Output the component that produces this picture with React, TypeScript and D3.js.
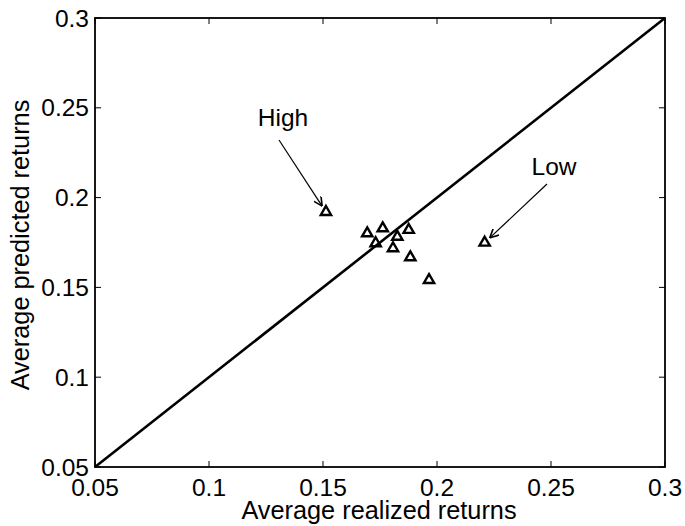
import React from "react";
import * as d3 from "d3";

const realized = [0.1513, 0.1694, 0.1762, 0.1731, 0.1826, 0.1876, 0.1807, 0.1883, 0.1965, 0.2209];
const predicted = [0.192, 0.1801, 0.1829, 0.1746, 0.1782, 0.182, 0.1718, 0.1668, 0.1541, 0.1749];
const tickValues = [0.05, 0.1, 0.15, 0.2, 0.25, 0.3];
const tickLabels = ["0.05", "0.1", "0.15", "0.2", "0.25", "0.3"];
const annotations = [
  { label: "High", index: 0 },
  { label: "Low", index: 9 },
];

const W = 685;
const H = 526;
const L = 95, R = 665, T = 18, B = 467;
const FONT = "'Liberation Sans', Arial, Helvetica, sans-serif";
const FS = 24.5;
const FS_AX = 25.3;

export default function App() {
  const x = d3.scaleLinear().domain([0.05, 0.3]).range([L, R]);
  const y = d3.scaleLinear().domain([0.05, 0.3]).range([B, T]);
  const tri = d3.symbol().type(d3.symbolTriangle).size(46)();
  const tickLen = 6;

  const textPos = [
    { tx: 283, ty: 126, sx: 279, sy: 140 },
    { tx: 554, ty: 175, sx: 547, sy: 184 },
  ];

  return (
    <svg width={W} height={H} style={{ position: "absolute", left: 0, top: 0, background: "#fff" }}>
      <defs>
        <marker id="ah" viewBox="0 0 10 10" refX="10" refY="5" markerWidth="9" markerHeight="9" orient="auto" markerUnits="userSpaceOnUse">
          <path d="M0,0 L10,5 L0,10" fill="none" stroke="#000" strokeWidth={1.8} />
        </marker>
      </defs>
      <rect x={0} y={0} width={W} height={H} fill="#fff" />
      {tickValues.map((v, i) => (
        <g key={"t" + i} stroke="#000" strokeWidth={1}>
          <line x1={x(v)} x2={x(v)} y1={B} y2={B - tickLen} />
          <line x1={x(v)} x2={x(v)} y1={T} y2={T + tickLen} />
          <line x1={L} x2={L + tickLen} y1={y(v)} y2={y(v)} />
          <line x1={R} x2={R - tickLen} y1={y(v)} y2={y(v)} />
        </g>
      ))}
      <line x1={x(0.05)} y1={y(0.05)} x2={x(0.3)} y2={y(0.3)} stroke="#000" strokeWidth={2.6} />
      <rect x={L} y={T} width={R - L} height={B - T} fill="none" stroke="#000" strokeWidth={1.8} />
      {tickValues.map((v, i) => (
        <text key={"xl" + i} x={x(v)} y={496} textAnchor="middle" fontFamily={FONT} fontSize={FS}>
          {tickLabels[i]}
        </text>
      ))}
      {tickValues.map((v, i) => (
        <text key={"yl" + i} x={89} y={y(v) + 8.5} textAnchor="end" fontFamily={FONT} fontSize={FS}>
          {tickLabels[i]}
        </text>
      ))}
      {realized.map((r, i) => (
        <path key={"p" + i} d={tri} transform={`translate(${x(r)},${y(predicted[i])})`} fill="none" stroke="#000" strokeWidth={2.4} />
      ))}
      {annotations.map((a, i) => {
        const px = x(realized[a.index]);
        const py = y(predicted[a.index]);
        const dx = px - textPos[i].sx;
        const dy = py - textPos[i].sy;
        const len = Math.sqrt(dx * dx + dy * dy);
        const ex = px - (dx / len) * 7;
        const ey = py - (dy / len) * 7;
        return (
          <g key={"a" + i}>
            <text x={textPos[i].tx} y={textPos[i].ty} textAnchor="middle" fontFamily={FONT} fontSize={FS}>
              {a.label}
            </text>
            <line x1={textPos[i].sx} y1={textPos[i].sy} x2={ex} y2={ey} stroke="#000" strokeWidth={1.2} markerEnd="url(#ah)" />
          </g>
        );
      })}
      <text x={379} y={519} textAnchor="middle" fontFamily={FONT} fontSize={FS_AX}>
        Average realized returns
      </text>
      <text transform={`translate(29,245) rotate(-90)`} textAnchor="middle" fontFamily={FONT} fontSize={FS_AX}>
        Average predicted returns
      </text>
    </svg>
  );
}
